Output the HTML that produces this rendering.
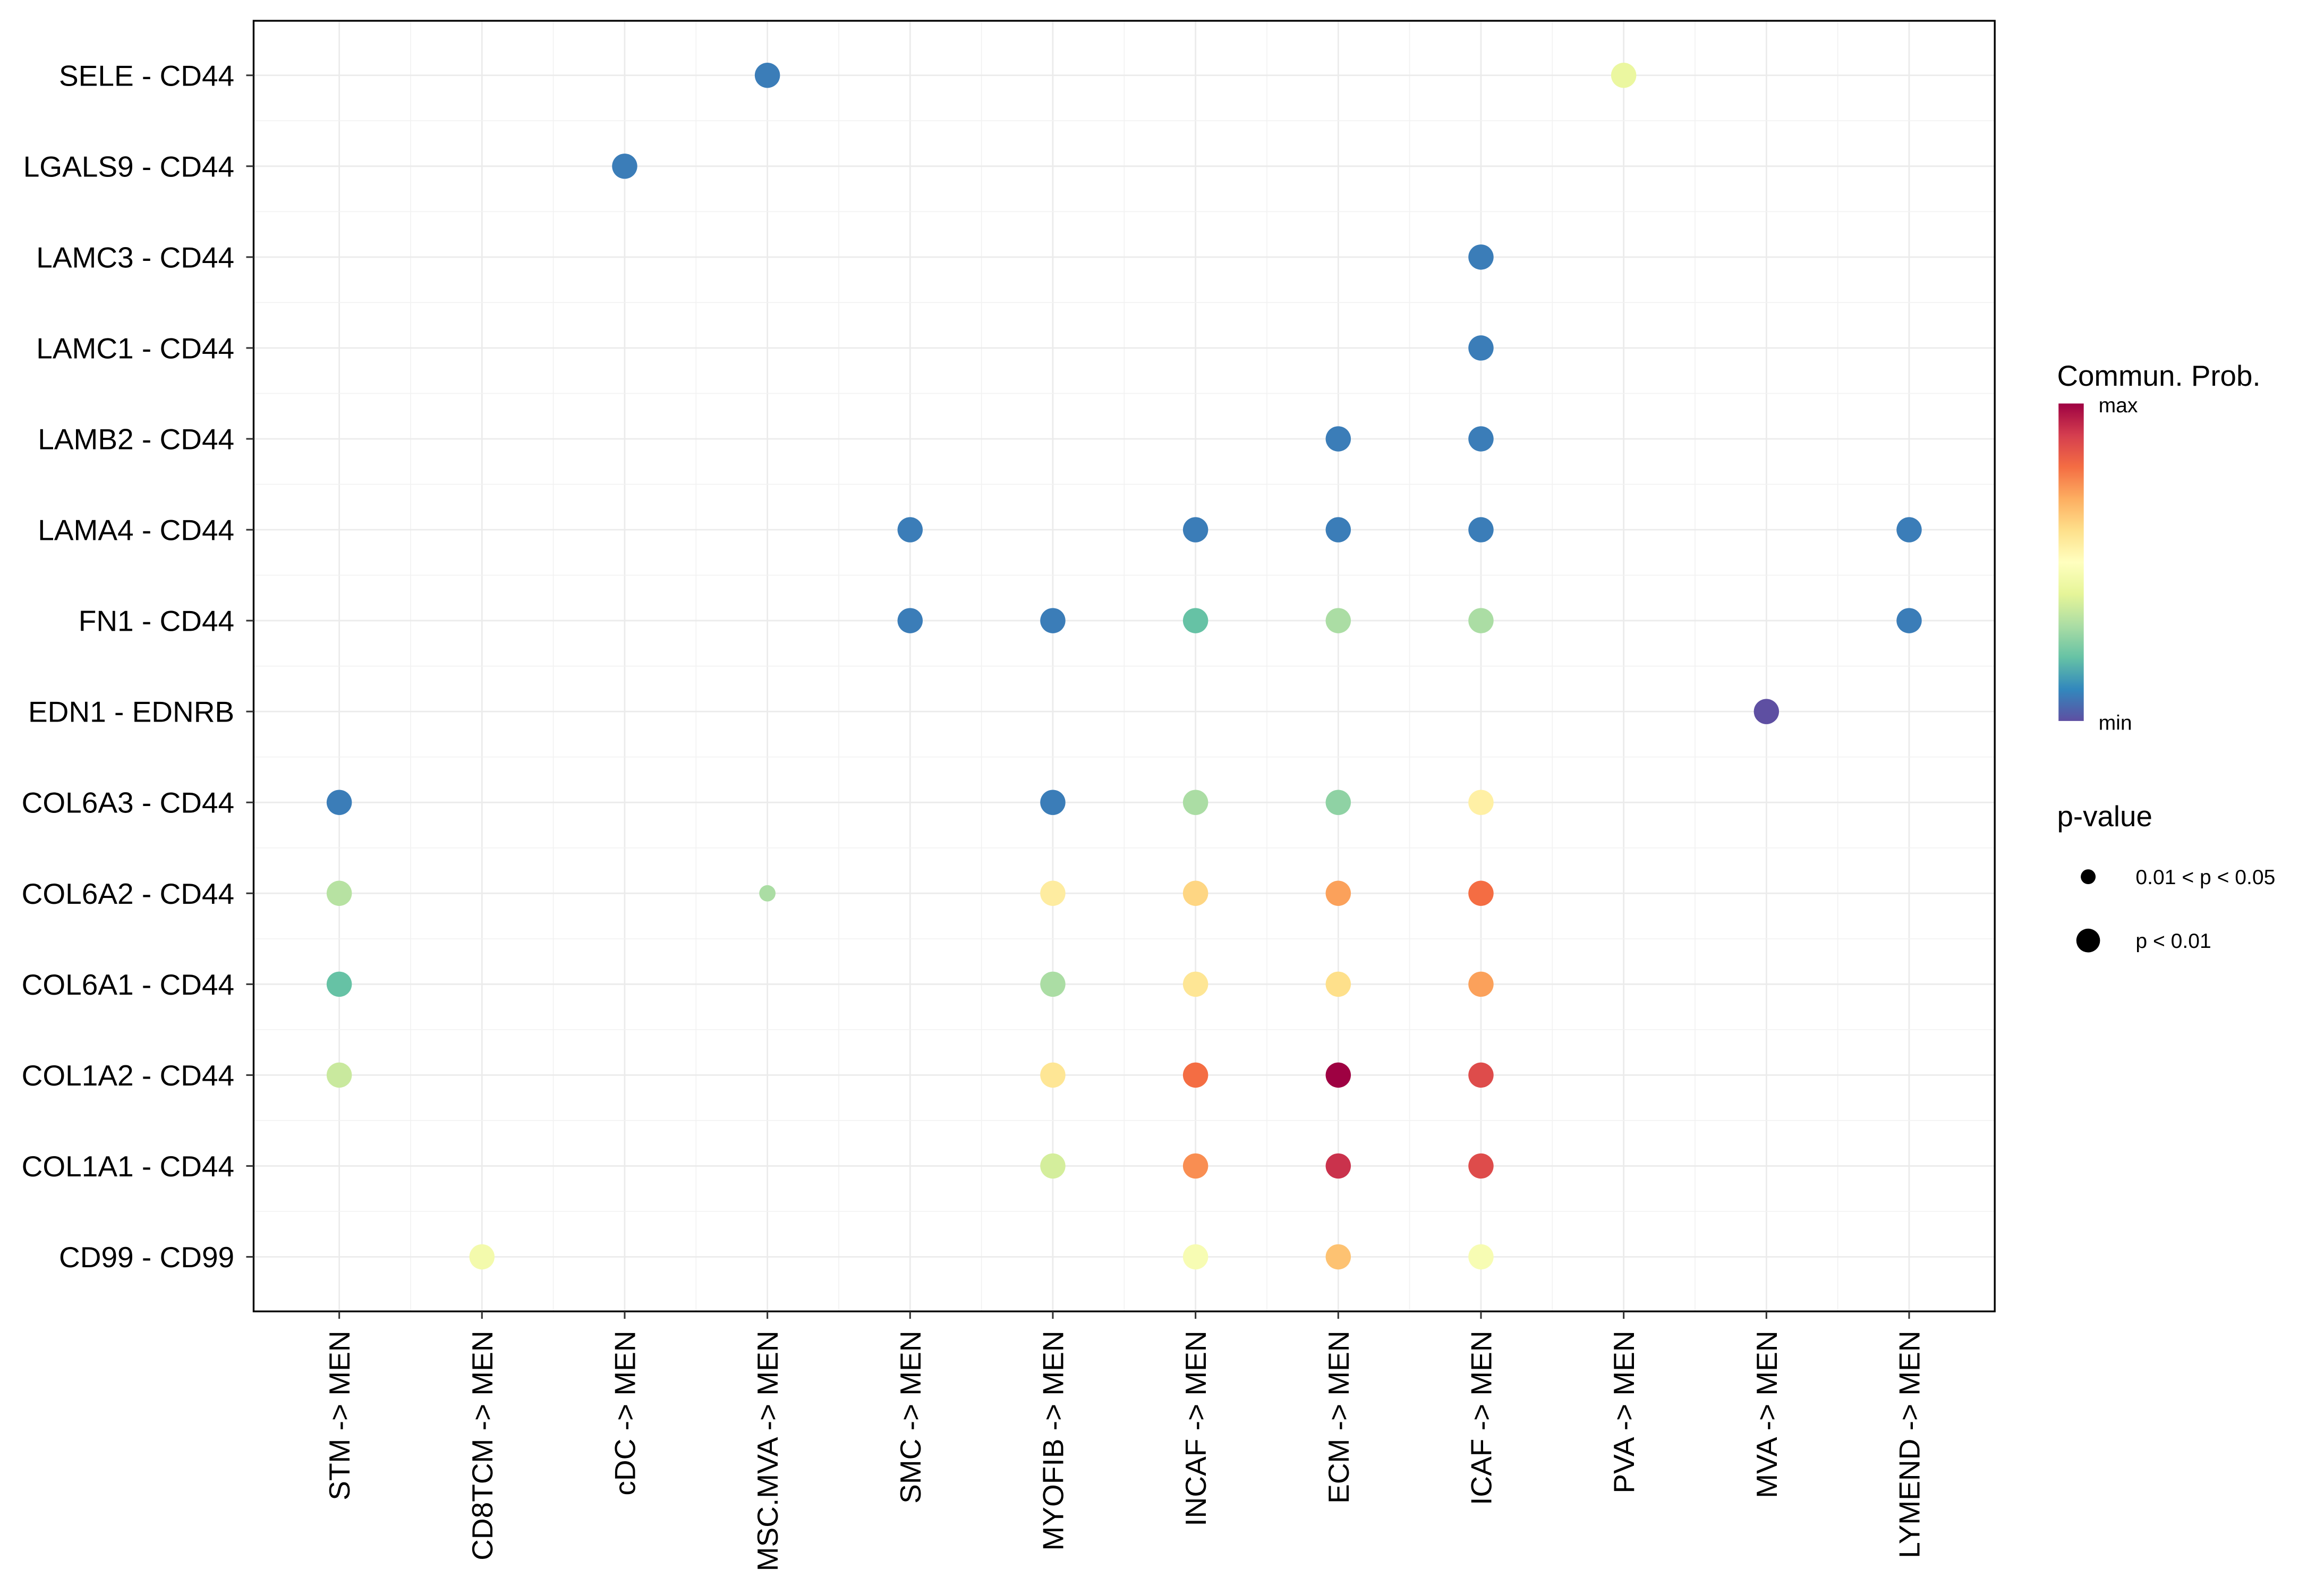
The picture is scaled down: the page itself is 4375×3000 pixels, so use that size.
<!DOCTYPE html>
<html><head><meta charset="utf-8">
<style>html,body{margin:0;padding:0;background:#fff}svg{display:block}text{font-family:"Liberation Sans",Arial,sans-serif;fill:#000}</style>
</head><body>
<svg id="chart" width="4375" height="3000" viewBox="0 0 1567 1074.5" xmlns="http://www.w3.org/2000/svg">
<rect x="0" y="0" width="1567" height="1074.5" fill="#fff"/>
<g id="grid"></g>
<g id="pts"></g>
<rect x="171" y="14" width="1174" height="870" fill="none" stroke="#000" stroke-width="1.2"/>
<g id="axes"></g>
<g id="legend">
<text x="1387" y="260" font-size="19.6">Commun. Prob.</text>
<defs><linearGradient id="grad" x1="0" y1="1" x2="0" y2="0"></linearGradient></defs>
<rect x="1388" y="272" width="17" height="214" fill="url(#grad)"/>
<text x="1415" y="278" font-size="14">max</text>
<text x="1415" y="492" font-size="14">min</text>
<text x="1387" y="557" font-size="19.6">p-value</text>
<circle cx="1408" cy="591" r="5" fill="#000"/>
<text x="1440" y="596" font-size="14">0.01 &lt; p &lt; 0.05</text>
<circle cx="1408" cy="634" r="8" fill="#000"/>
<text x="1440" y="639" font-size="14">p &lt; 0.01</text>
</g>
</svg>
<script>
const xCats=["STM -> MEN","CD8TCM -> MEN","cDC -> MEN","MSC.MVA -> MEN","SMC -> MEN","MYOFIB -> MEN","INCAF -> MEN","ECM -> MEN","ICAF -> MEN","PVA -> MEN","MVA -> MEN","LYMEND -> MEN"];
const yCats=["SELE - CD44","LGALS9 - CD44","LAMC3 - CD44","LAMC1 - CD44","LAMB2 - CD44","LAMA4 - CD44","FN1 - CD44","EDN1 - EDNRB","COL6A3 - CD44","COL6A2 - CD44","COL6A1 - CD44","COL1A2 - CD44","COL1A1 - CD44","CD99 - CD99"];
const ptX=[3,9,2,8,8,7,8,4,6,7,8,11,4,5,6,7,8,11,10,0,5,6,7,8,0,3,5,6,7,8,0,5,6,7,8,0,5,6,7,8,5,6,7,8,1,6,7,8];
const ptY=[0,0,1,2,3,4,4,5,5,5,5,5,6,6,6,6,6,6,7,8,8,8,8,8,9,9,9,9,9,9,10,10,10,10,10,11,11,11,11,11,12,12,12,12,13,13,13,13];
const ptVal=[0.08,0.42,0.08,0.08,0.08,0.08,0.08,0.08,0.08,0.08,0.08,0.08,0.08,0.08,0.2,0.3,0.3,0.08,0,0.08,0.08,0.3,0.26,0.55,0.32,0.3,0.56,0.62,0.72,0.8,0.2,0.3,0.58,0.6,0.72,0.35,0.58,0.8,1,0.87,0.37,0.75,0.92,0.87,0.45,0.47,0.66,0.47];
const ptSig=[1,1,1,1,1,1,1,1,1,1,1,1,1,1,1,1,1,1,1,1,1,1,1,1,1,0,1,1,1,1,1,1,1,1,1,1,1,1,1,1,1,1,1,1,1,1,1,1];
const pal=["#5E4FA2","#3288BD","#66C2A5","#ABDDA4","#E6F598","#FFFFBF","#FEE08B","#FDAE61","#F46D43","#D53E4F","#9E0142"];
const NS="http://www.w3.org/2000/svg";
const L=171,R=1345,T=14,B=884;
const sx=(R-L)/(xCats.length-1+1.2), sy=(B-T)/(yCats.length-1+1.2);
const X=i=>L+0.6*sx+i*sx, Y=j=>T+0.6*sy+j*sy;
function hx(h){return [1,3,5].map(k=>parseInt(h.substr(k,2),16));}
function col(v){v=Math.max(0,Math.min(1,v));const p=v*(pal.length-1),i=Math.min(Math.floor(p),pal.length-2),f=p-i;const a=hx(pal[i]),b=hx(pal[i+1]);return "rgb("+a.map((c,k)=>Math.round(c+(b[k]-c)*f)).join(",")+")";}
function mk(t,a,parent){const e=document.createElementNS(NS,t);for(const k in a)e.setAttribute(k,a[k]);parent.appendChild(e);return e;}
const grad=document.getElementById("grad");
pal.forEach((c,i)=>mk("stop",{offset:(i/(pal.length-1)),"stop-color":c},grad));
const g=document.getElementById("grid"),ax=document.getElementById("axes"),pts=document.getElementById("pts");
for(let i=0;i<xCats.length;i++){
 const l=mk("line",{x1:X(i),x2:X(i),y1:T,y2:B,stroke:"#ebebeb","stroke-width":1},g);
 
 
 if(i<xCats.length-1){const m=mk("line",{x1:X(i)+sx/2,x2:X(i)+sx/2,y1:T,y2:B,stroke:"#f2f2f2","stroke-width":0.6},g);
 
 }
 const tk=mk("line",{x1:X(i),x2:X(i),y1:B,y2:B+5,stroke:"#333","stroke-width":1.1},ax);
 
 
 const t=mk("text",{x:0,y:0,"font-size":19.7,"text-anchor":"end",transform:"translate("+(X(i)+7)+","+(B+13)+") rotate(-90)"},ax);
 t.textContent=xCats[i];
 
 
}
for(let j=0;j<yCats.length;j++){
 const l=mk("line",{x1:L,x2:R,y1:Y(j),y2:Y(j),stroke:"#ebebeb","stroke-width":1},g);
 
 
 if(j<yCats.length-1){const m=mk("line",{x1:L,x2:R,y1:Y(j)+sy/2,y2:Y(j)+sy/2,stroke:"#f2f2f2","stroke-width":0.6},g);
 
 }
 const tk=mk("line",{x1:L-5,x2:L,y1:Y(j),y2:Y(j),stroke:"#333","stroke-width":1.1},ax);
 
 
 const t=mk("text",{x:L-13,y:Y(j)+7,"font-size":19.7,"text-anchor":"end"},ax);
 t.textContent=yCats[j];
 
 
}
for(let k=0;k<ptX.length;k++){
 const c=mk("circle",{cx:X(ptX[k]),cy:Y(ptY[k]),r:ptSig[k]?8.5:5.5,fill:col(ptVal[k])},pts);
 
 
}
</script>
</body></html>
